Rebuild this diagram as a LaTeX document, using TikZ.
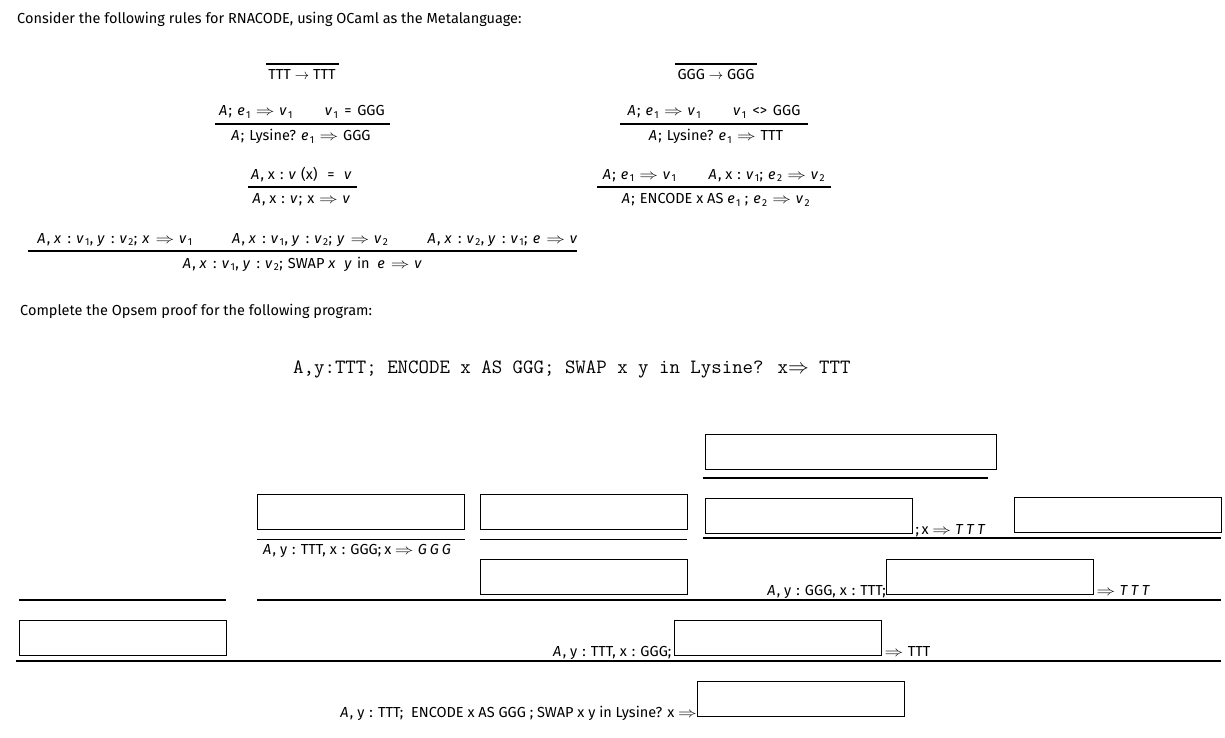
\documentclass[tikz,border=0pt]{standalone}
\usepackage{fontspec}
\usepackage{graphicx}
\setmainfont{Fira Sans}
\usetikzlibrary{positioning}
\newcommand\mi[1]{\textit{#1}\kern0.09em\relax}
\newcommand\mt[3]{\textit{#1}\kern0.2em\relax\textit{#2}\kern0.2em\relax\textit{#3}}
\newcommand\sub[1]{\textsubscript{#1}}
\newcommand\Arr{\scalebox{1.3}[1]{$\Rightarrow$}}
\newcommand\To{\hspace{0.33em}\Arr\hspace{0.33em}}
\newcommand\Sc{;\hspace{0.35em}}
\newcommand\Col{\hspace{0.35em}:\hspace{0.35em}}

\begin{document}
\begin{tikzpicture}[x=1pt,y=-1pt,
    txt/.style={inner sep=0pt,font=\fontsize{14.5}{17}\selectfont,anchor=base},
    bar/.style={line width=1.1pt},
    blank/.style={draw,line width=1.1pt,minimum width=207pt,minimum height=35pt,
      inner sep=0pt,anchor=north west}]
  \useasboundingbox (0,0) rectangle (1225,738);

  \node[txt,anchor=base west] (intro) at (17,24)
    {Consider the following rules for RNACODE, using OCaml as the Metalanguage:};

  % rules, left column
  \draw[bar] (266,64) -- (339,64);
  \node[txt] (r1c) at (302,80) {TTT $\rightarrow$ TTT};

  \node[txt] (r2p) at (302,116) {\mi{A}\Sc\mi{e}\sub{1}\To\mi{v}\sub{1}\hspace{2.2em}\mi{v}\sub{1}\hspace{0.4em}=\hspace{0.4em}GGG};
  \draw[bar] (215,124) -- (390,124);
  \node[txt] (r2c) at (301,141) {\mi{A}\Sc Lysine? \mi{e}\sub{1}\To GGG};

  \node[txt] (r3p) at (302,179) {\mi{A}, x\Col\mi{v} (x) \hspace{0.4em}=\hspace{0.4em} \mi{v}};
  \draw[bar] (248,187) -- (357,187);
  \node[txt] (r3c) at (302,204) {\mi{A}, x\Col\mi{v}\Sc x\To\mi{v}};

  % rules, right column
  \draw[bar] (675,64) -- (757,64);
  \node[txt] (r4c) at (716,80) {GGG $\rightarrow$ GGG};

  \node[txt] (r5p) at (714,116) {\mi{A}\Sc\mi{e}\sub{1}\To\mi{v}\sub{1}\hspace{2.2em}\mi{v}\sub{1}\hspace{0.4em}<>\hspace{0.4em}GGG};
  \draw[bar] (620,124) -- (808,124);
  \node[txt] (r5c) at (716,141) {\mi{A}\Sc Lysine? \mi{e}\sub{1}\To TTT};

  \node[txt] (r6p) at (714,179) {\mi{A}\Sc\mi{e}\sub{1}\To\mi{v}\sub{1}\hspace{2.2em}\mi{A}, x\Col\mi{v}\sub{1}\Sc\mi{e}\sub{2}\To\mi{v}\sub{2}};
  \draw[bar] (597,187) -- (831,187);
  \node[txt] (r6c) at (716,204) {\mi{A}\Sc ENCODE x AS \mi{e}\sub{1} \Sc\mi{e}\sub{2}\To\mi{v}\sub{2}};

  % swap rule
  \node[txt] (r7p) at (308,243) {\mi{A}, \mi{x}\Col\mi{v}\sub{1}, \mi{y}\Col\mi{v}\sub{2}\Sc\mi{x}\To\mi{v}\sub{1}\hspace{2.7em}%
    \mi{A}, \mi{x}\Col\mi{v}\sub{1}, \mi{y}\Col\mi{v}\sub{2}\Sc\mi{y}\To\mi{v}\sub{2}\hspace{2.7em}%
    \mi{A}, \mi{x}\Col\mi{v}\sub{2}, \mi{y}\Col\mi{v}\sub{1}\Sc\mi{e}\To\mi{v}};
  \draw[bar] (28,251) -- (577,251);
  \node[txt] (r7c) at (303,268) {\mi{A}, \mi{x}\Col\mi{v}\sub{1}, \mi{y}\Col\mi{v}\sub{2}\Sc SWAP \mi{x} \ \mi{y} in \ \mi{e}\To\mi{v}};

  \node[txt,anchor=base west] (task) at (20,315)
    {Complete the Opsem proof for the following program:};

  \node[txt,anchor=base west,font=\fontsize{20.3}{22}\selectfont\ttfamily] (prog) at (293,373)
    {A,y:TTT; ENCODE x AS GGG; SWAP x y in Lysine? x$\Rightarrow$ TTT};

  % proof tree
  \node[blank,minimum width=291pt] (bA) at (705,434) {};
  \draw[bar] (703,478) -- (988,478);

  \node[blank] (bB) at (257,494) {};
  \draw[bar] (bB.south west) ++(0,9) -- ++(208,0);
  \node[txt,anchor=base west] (lB) at (263,554) {\mi{A}, y\Col TTT, x\Col GGG;\hspace{0.2em}x\hspace{0.25em}\Arr\hspace{0.3em}\mt{G}{G}{G}};

  \node[blank] (bC) at (480,494) {};
  \draw[bar] (bC.south west) ++(0,9) -- ++(207,0);
  \node[blank] (bD) at (480,559) {};

  \node[blank] (bE) at (705,498) {};
  \node[txt,anchor=base west] (lE) at (bE.south east) {\,;\,x\hspace{0.25em}\Arr\hspace{0.3em}\mt{T}{T}{T}};
  \node[blank] (bF) at (1014,497) {};
  \draw[bar] (703,538) -- (1221,538);

  \node[blank] (bG) at (886,559) {};
  \node[txt,anchor=base east] (lG1) at (bG.south west) {\mi{A}, y\Col GGG, x\Col TTT;};
  \node[txt,anchor=base west] (lG2) at (bG.south east) {\,\Arr\hspace{0.3em}\mt{T}{T}{T}};

  \draw[bar] (19,600) -- (226,600);
  \draw[bar] (257,600) -- (1221,600);

  \node[blank] (bH) at (19,620) {};
  \node[blank] (bI) at (674,620) {};
  \node[txt,anchor=base east] (lI1) at (bI.south west) {\mi{A}, y\Col TTT, x\Col GGG;\,};
  \node[txt,anchor=base west] (lI2) at (bI.south east) {\,\Arr\hspace{0.3em}TTT};
  \draw[bar] (16,661) -- (1221,661);

  \node[blank] (bJ) at (697,681) {};
  \node[txt,anchor=base east] (lJ) at (bJ.south west)
    {\mi{A}, y\Col TTT; \ ENCODE x AS GGG ; SWAP x y in Lysine? x\hspace{0.25em}\Arr\hspace{0.2em}};
\end{tikzpicture}
\end{document}
